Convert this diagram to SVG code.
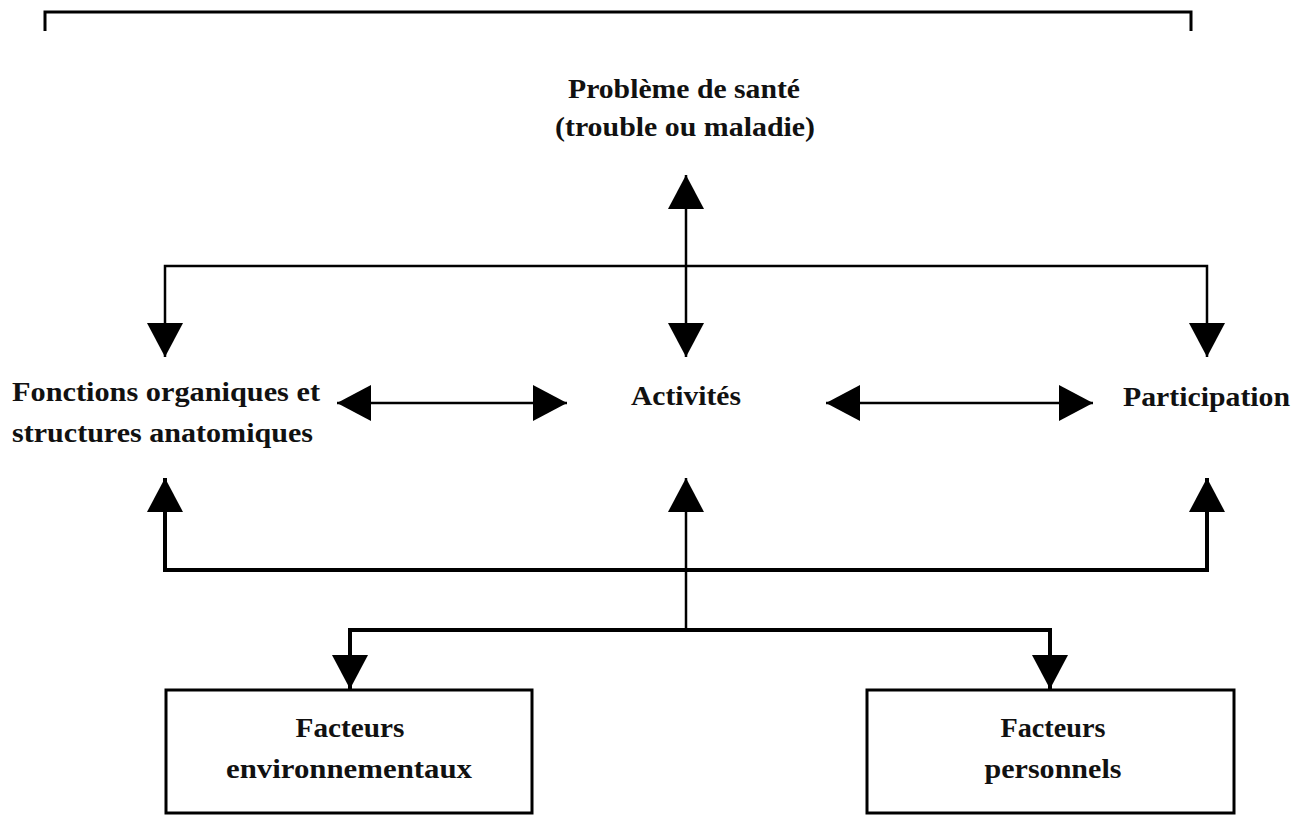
<svg xmlns="http://www.w3.org/2000/svg" width="1305" height="839" viewBox="0 0 1305 839">
  <style>
    .t { font-family: "Liberation Serif", "DejaVu Serif", serif; font-weight: bold; font-size: 27px; fill: #111; }
    .c { fill: none; stroke: #000; stroke-width: 2.5; }
    .thick { stroke-width: 4; }
    .box { fill: #fff; stroke: #000; stroke-width: 3; }
  </style>
  <defs>
    <marker id="ah" markerUnits="userSpaceOnUse" markerWidth="36" markerHeight="36" refX="34" refY="18" orient="auto-start-reverse" viewBox="0 0 36 36">
      <path d="M0,0 L34,18 L0,36 z" fill="#000"/>
    </marker>
  </defs>
  <rect width="1305" height="839" fill="#fff"/>
  <path d="M45,31 V12 H1191 V31" fill="none" stroke="#000" stroke-width="3"/>

  <g id="connectors">
    <path class="c" d="M686,175 V357" marker-start="url(#ah)" marker-end="url(#ah)"/>
    <path class="c" d="M165,357 V266 H1207 V357" marker-start="url(#ah)" marker-end="url(#ah)"/>
    <path class="c" d="M337,403 H567" marker-start="url(#ah)" marker-end="url(#ah)"/>
    <path class="c" d="M826,403 H1093" marker-start="url(#ah)" marker-end="url(#ah)"/>
    <path class="c thick" d="M165,478 V570 H1207 V478" marker-start="url(#ah)" marker-end="url(#ah)"/>
    <path class="c" d="M686,630 V478" marker-end="url(#ah)"/>
    <path class="c thick" d="M350,689 V630 H1050 V689" marker-start="url(#ah)" marker-end="url(#ah)"/>
  </g>

  <g id="probleme">
    <text class="t" x="684" y="98" text-anchor="middle" textLength="232" lengthAdjust="spacingAndGlyphs">Problème de santé</text>
    <text class="t" x="685" y="136" text-anchor="middle" textLength="260" lengthAdjust="spacingAndGlyphs">(trouble ou maladie)</text>
  </g>
  <g id="fonctions">
    <text class="t" x="12" y="401" textLength="308" lengthAdjust="spacingAndGlyphs">Fonctions organiques et</text>
    <text class="t" x="12" y="442" textLength="301" lengthAdjust="spacingAndGlyphs">structures anatomiques</text>
  </g>
  <g id="activites">
    <text class="t" x="686" y="405" text-anchor="middle" textLength="110" lengthAdjust="spacingAndGlyphs">Activités</text>
  </g>
  <g id="participation">
    <text class="t" x="1123" y="406" textLength="167" lengthAdjust="spacingAndGlyphs">Participation</text>
  </g>
  <g id="env">
    <rect class="box" x="166" y="690" width="366" height="123"/>
    <text class="t" x="350" y="737" text-anchor="middle" textLength="109" lengthAdjust="spacingAndGlyphs">Facteurs</text>
    <text class="t" x="349" y="778" text-anchor="middle" textLength="246" lengthAdjust="spacingAndGlyphs">environnementaux</text>
  </g>
  <g id="pers">
    <rect class="box" x="867" y="690" width="367" height="123"/>
    <text class="t" x="1053" y="737" text-anchor="middle" textLength="105" lengthAdjust="spacingAndGlyphs">Facteurs</text>
    <text class="t" x="1053" y="778" text-anchor="middle" textLength="137" lengthAdjust="spacingAndGlyphs">personnels</text>
  </g>
</svg>
